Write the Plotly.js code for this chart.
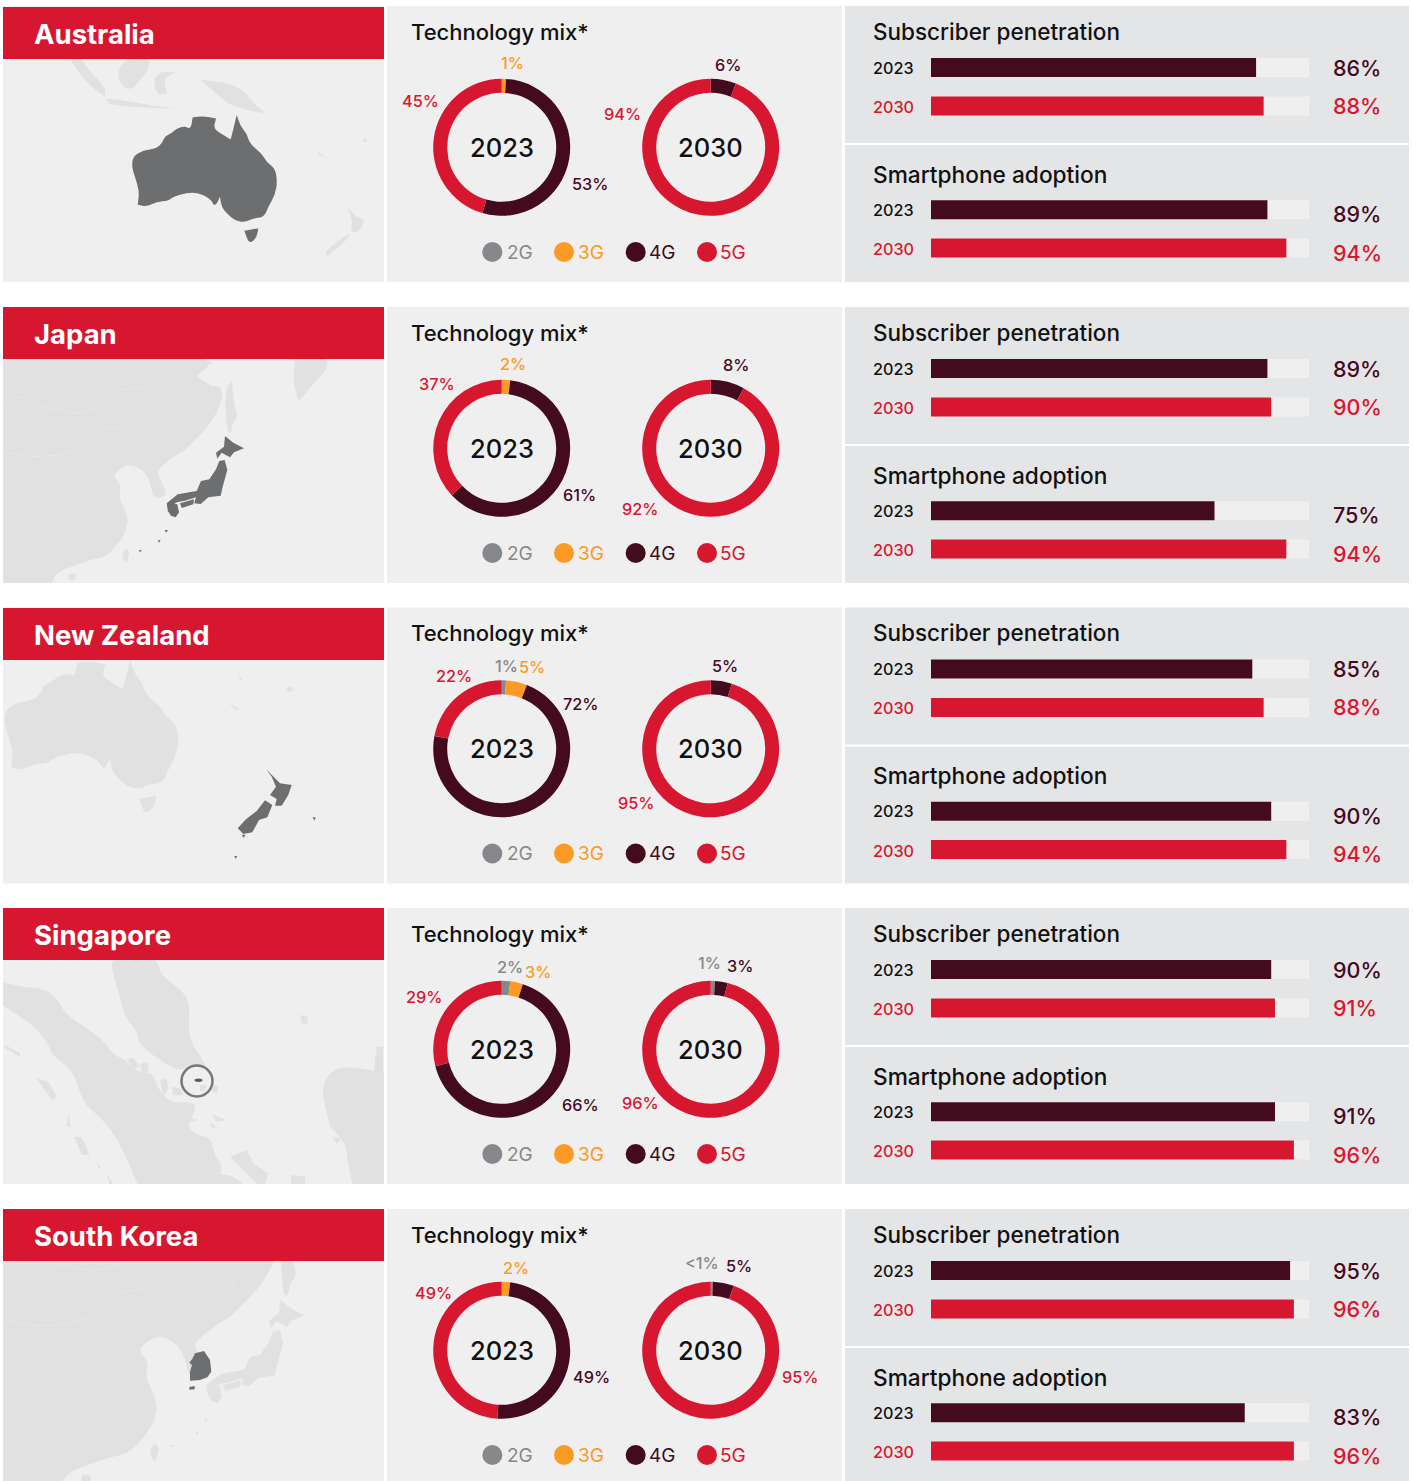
<!DOCTYPE html>
<html><head><meta charset="utf-8">
<script src="https://cdn.plot.ly/plotly-3.0.1.min.js"></script>
<style>html,body{margin:0;padding:0;background:#fff;overflow:hidden}#c{width:1413px;height:1481px}</style>
</head><body><div id="c"></div>
<script>
// ---------- data ----------
const countries = ["Australia","Japan","New Zealand","Singapore","South Korea"];
const techs = ["2G","3G","4G","5G"];
const years = ["2023","2030"];
const mix2023 = [[0,1,53,45],[0,2,61,37],[1,5,72,22],[2,3,66,29],[0,2,49,49]];
const mix2030 = [[0,0,6,94],[0,0,8,92],[0,0,5,95],[1,0,3,96],[0.5,0,5,95]];
const subscriber2023 = [86,89,85,90,95];
const subscriber2030 = [88,90,88,91,96];
const smartphone2023 = [89,75,90,91,83];
const smartphone2030 = [94,94,94,96,96];

// ---------- style & layout ----------
const FONT = "Inter, 'Noto Sans', sans-serif";
const RED="#D71730", DARK="#440A1E", ORANGE="#FB9A25", GREY="#87888B";
const techColors=[GREY,ORANGE,DARK,RED];
const rowTops=[6,307,607.5,908,1209];
const headerTops=[7,307,608,908,1209];
const W=1413,H=1481,ROWH=276;
// donut label anchors (technology index, centre x, centre y in page pixels)
const labels2023=[
 [[1,512,63],[3,420,101],[2,590,184]],
 [[1,513,364],[3,437,384],[2,579,495]],
 [[0,506,666],[1,532,667],[3,454,676],[2,581,704]],
 [[0,510,967],[1,538,972],[3,424,997],[2,580,1105]],
 [[1,516,1268],[3,433,1293],[2,591,1377]]];
const labels2030=[
 [[2,728,65],[3,622,114]],
 [[2,736,365],[3,640,509]],
 [[2,725,666],[3,636,803]],
 [[0,709,963],[2,740,966],[3,640,1103]],
 [[0,702,1263],[2,739,1266],[3,800,1377]]];

// ---------- map outlines (decorative, in 3x-crop pixels) ----------
const LAND="#E1E1E1", HILITE="#6D6E70", BORDER="#E8E8E8";
const ausMain=[[395,500],[400,468],[430,452],[430,452],[470,445],[487,428],[495,408],[515,400],[530,385],[555,378],[572,388],[578,352],[578,352],[610,348],[648,356],[648,356],[640,385],[665,402],[692,418],[692,418],[698,395],[710,345],[710,345],[722,380],[740,400],[750,432],[785,460],[800,487],[825,505],[832,545],[825,585],[805,620],[792,652],[760,655],[735,667],[705,662],[680,640],[665,622],[660,590],[660,590],[645,622],[632,597],[595,578],[560,578],[520,590],[505,603],[470,605],[440,620],[413,614],[413,614],[418,575],[405,530]];
const tas=[[733,692],[733,692],[775,685],[775,685],[770,712],[755,727],[745,725]];
const ausBg=[
 [[205,170],[240,170],[270,215],[315,260],[315,290],[315,290],[280,265],[240,225]],
 [[350,215],[385,170],[450,170],[445,210],[420,240],[395,270],[365,260]],
 [[315,295],[315,295],[400,305],[470,320],[530,325],[530,325],[480,324],[400,322],[330,312],[330,312]],
 [[460,240],[480,215],[530,215],[530,215],[490,235],[500,280],[500,280],[470,285]],
 [[590,235],[640,245],[690,250],[730,270],[770,320],[800,340],[800,340],[760,335],[710,320],[680,310],[640,270]],
 [[1040,615],[1040,615],[1065,650],[1095,655],[1085,685],[1065,700],[1050,690],[1060,670]],
 [[1055,695],[1040,720],[1000,755],[980,770],[975,755],[1010,725]],
 [[945,450],[945,450],[975,470],[975,470],[965,472]],
 [[1088,418],[1100,416],[1100,426],[1088,426]]];
const jpMain=[[-30,170],[-30,170],[645,170],[620,205],[585,230],[610,240],[635,260],[660,258],[670,290],[650,340],[620,385],[575,430],[555,450],[520,470],[470,510],[480,535],[500,580],[490,592],[460,595],[450,545],[430,510],[385,490],[335,525],[365,555],[355,590],[385,650],[380,690],[355,730],[320,770],[270,780],[215,800],[165,820],[150,870],[150,870],[-30,870],[-30,870]];
const jpBg=[
 [[675,270],[695,245],[695,245],[705,330],[715,345],[695,375],[695,400],[680,395]],
 [[885,170],[885,170],[980,170],[985,205],[950,240],[920,275],[895,305],[895,305],[880,240]],
 [[375,745],[390,755],[380,790],[380,790],[365,775]],
 [[205,820],[230,822],[225,842],[205,840]]];
const jpIslands=[
 [[675,408],[700,428],[732,445],[702,457],[690,472],[665,458],[652,476],[648,458],[672,440]],
 [[658,483],[674,480],[682,510],[668,560],[662,587],[625,592],[602,612],[583,610],[588,592],[555,602],[530,607],[503,627],[500,610],[533,583],[590,573],[603,543],[628,538],[648,508]],
 [[540,610],[582,598],[580,613],[545,624]],
 [[503,610],[532,613],[537,637],[527,652],[513,647],[503,632]],
 [[475,720],[482,720],[476,729]],[[416,751],[426,751],[420,757]],[[494,690],[504,690],[498,698]]];
const jpBorders=[
 [[10,310],[60,290],[130,320],[230,340],[300,325],[350,270],[440,260],[470,300],[530,340],[570,370],[550,400]],
 [[10,455],[100,470],[180,465],[240,440],[300,390],[360,380]]];
const nzHi=[
 [[798,507],[825,535],[840,550],[875,555],[865,585],[845,617],[825,617],[830,597],[810,585],[828,560],[815,530]],
 [[795,601],[817,615],[802,652],[777,660],[757,697],[730,702],[713,685],[738,658],[770,633]],
 [[726,704],[737,704],[730,714]],[[938,652],[947,652],[943,662]],[[703,768],[712,768],[707,777]]];
const nzBg=[[[685,305],[685,305],[720,330],[720,330],[705,330]],[[858,261],[877,261],[877,275],[858,275]],[[715,225],[715,225],[728,240],[722,245]]];
const sgBig=[
 [[330,170],[470,170],[480,225],[545,270],[570,310],[565,400],[580,440],[610,480],[620,515],[590,495],[550,510],[520,505],[470,475],[415,430],[415,400],[375,350],[360,290],[340,230]],
 [[-20,240],[-20,240],[70,262],[130,265],[170,295],[195,340],[260,385],[310,420],[340,465],[380,480],[400,510],[460,520],[470,560],[510,610],[575,605],[590,625],[565,670],[575,700],[635,715],[640,760],[670,800],[655,825],[700,825],[745,870],[745,870],[420,870],[420,870],[380,775],[345,705],[300,650],[250,610],[225,530],[205,500],[155,465],[145,430],[95,370],[-20,300],[-20,300]],
 [[1170,530],[1170,530],[1100,505],[1000,500],[965,560],[975,620],[990,680],[1010,700],[1040,740],[1040,770],[1060,870],[1060,870],[1170,870],[1170,870]]];
const sgIslands=[
 [[15,435],[60,460],[60,470],[15,445]],[[110,535],[145,545],[170,590],[155,600]],[[205,640],[212,680],[200,680]],
 [[222,710],[245,710],[268,765],[245,765]],[[290,785],[305,805],[295,805]],[[320,820],[345,860],[330,860]],
 [[900,345],[925,350],[920,375],[905,370]],[[690,770],[740,750],[760,790],[805,820],[790,870],[720,800]],
 [[640,645],[680,660],[650,665]],[[630,665],[650,680],[635,685]],[[570,655],[590,660],[570,665]],
 [[420,490],[445,490],[445,515],[425,515]],[[380,478],[400,475],[420,500],[400,505]],[[480,540],[500,535],[505,565],[490,590]],
 [[515,560],[540,565],[550,585],[520,585]],[[640,555],[655,560],[650,578],[636,575]],[[600,555],[620,555],[612,575],[600,572]],
 [[875,825],[915,830],[915,870],[870,870]],[[1000,712],[1025,715],[1010,732]],[[1130,440],[1150,440],[1150,530],[1120,530]]];
const skHi=[[[585,460],[612,453],[630,480],[634,515],[622,532],[600,540],[570,542],[570,515],[576,495],[568,488],[578,475]],[[568,561],[584,558],[584,568],[568,569]]];

// closed outline smoothed through edge midpoints; a repeated point stays sharp
const mapT=(pts,ox,oy,s,dx,dy)=>{
  const q=pts.map(p=>[(p[0]*s+dx)/3+ox,(p[1]*s+dy)/3+oy]);
  const m=(a,b)=>((a[0]+b[0])/2).toFixed(1)+","+((a[1]+b[1])/2).toFixed(1);
  let d="M"+m(q[q.length-1],q[0]);
  q.forEach((p,i)=>{d+="Q"+p[0].toFixed(1)+","+p[1].toFixed(1)+" "+m(p,q[(i+1)%q.length]);});
  return d+"Z";
};
const lineT=(pts,ox,oy,s,dx,dy)=>"M"+pts.map(p=>((p[0]*s+dx)/3+ox).toFixed(1)+","+((p[1]*s+dy)/3+oy).toFixed(1)).join("L");
const polyT=(pts,ox,oy,s,dx,dy)=>lineT(pts,ox,oy,s,dx,dy)+"Z";
const blob=(path,color)=>({type:"path",path,xref:"x",yref:"y",fillcolor:color,line:{width:0},layer:"below"});
const rule=(path)=>({type:"path",path,xref:"x",yref:"y",line:{width:0.8,color:BORDER},layer:"below"});
const rect=(x0,y0,x1,y1,color)=>({type:"rect",xref:"x",yref:"y",x0,y0,x1,y1,fillcolor:color,line:{width:0},layer:"below"});

// map layer
const shapes=[];
shapes.push(rect(3,0,384,H,"#EFEFEF"));
// Australia row
ausBg.forEach(p=>shapes.push(blob(mapT(p,0,0,1,0,0),LAND)));
shapes.push(blob(mapT(ausMain,0,0,1,0,0),HILITE),blob(mapT(tas,0,0,1,0,0),HILITE));
// Japan row
shapes.push(blob(mapT(jpMain,0,300,1,0,0),LAND));
jpBorders.forEach(p=>shapes.push(rule(lineT(p,0,300,1,0,0))));
jpBg.forEach(p=>shapes.push(blob(mapT(p,0,300,1,0,0),LAND)));
jpIslands.forEach(p=>shapes.push(blob(polyT(p,0,300,1,0,0),HILITE)));
// New Zealand row
const azS=1.2,azX=390-710*1.2,azY=180-345*1.2;
shapes.push(blob(mapT(ausMain,0,600,azS,azX,azY),LAND),blob(mapT(tas,0,600,azS,azX,azY),LAND));
nzBg.forEach(p=>shapes.push(blob(mapT(p,0,600,1,0,0),LAND)));
nzHi.forEach(p=>shapes.push(blob(polyT(p,0,600,1,0,0),HILITE)));
// Singapore row
sgBig.forEach(p=>shapes.push(blob(mapT(p,0,900,1,0,0),LAND)));
sgIslands.forEach(p=>shapes.push(blob(polyT(p,0,900,1,0,0),LAND)));
shapes.push({type:"circle",xref:"x",yref:"y",x0:181.5,y0:1065.5,x1:212.5,y1:1096.5,line:{color:"#77787A",width:2.5},fillcolor:"rgba(0,0,0,0)",layer:"below"});
shapes.push({type:"circle",xref:"x",yref:"y",x0:194.5,y0:1078.6,x1:202.5,y1:1082,line:{width:0},fillcolor:"#5A5B5D",layer:"below"});
// South Korea row
const skS=1.27,skX=860-690*1.27,skY=340-440*1.27;
shapes.push(blob(mapT(jpMain,0,1200,skS,skX,skY),LAND));
jpBorders.forEach(p=>shapes.push(rule(lineT(p,0,1200,skS,skX,skY))));
jpBg.forEach(p=>shapes.push(blob(mapT(p,0,1200,skS,skX,skY),LAND)));
jpIslands.forEach(p=>shapes.push(blob(polyT(p,0,1200,skS,skX,skY),LAND)));
skHi.forEach(p=>shapes.push(blob(polyT(p,0,1200,1,0,0),HILITE)));

// masks between rows, then panels on top of the maps
shapes.push(rect(0,0,3,H,"#FFFFFF"),rect(0,0,390,rowTops[0],"#FFFFFF"));
rowTops.forEach((t,i)=>{
  const b=Math.min(t+ROWH,H);
  const next=i<4?rowTops[i+1]:H;
  if(i<4) shapes.push(rect(0,b,W,next,"#FFFFFF"));
  shapes.push(rect(384,t,387,b,"#FFFFFF"));
  shapes.push(rect(387,t,842,b,"#EFEFEF"));
  shapes.push(rect(842,t,845,b,"#FFFFFF"));
  shapes.push(rect(845,t,1409,t+137,"#E4E5E7"));
  shapes.push(rect(845,t+139,1409,b,"#E4E5E7"));
  shapes.push(rect(3,headerTops[i],384,headerTops[i]+52,RED));
  // legend dots
  [492.3,564,635.7,707].forEach((x,k)=>shapes.push({type:"circle",xref:"x",yref:"y",x0:x-10,x1:x+10,y0:t+236,y1:t+256,fillcolor:techColors[k],line:{width:0},layer:"below"}));
});

const ann=[];
const txt=(x,y,text,size,color,anchor,weight)=>ann.push({xref:"x",yref:"y",x,y,text,showarrow:false,xanchor:anchor||"left",yanchor:"middle",
  font:{family:FONT,size,color,weight:weight||400},borderpad:0,borderwidth:0});
const fmt=v=>v<1&&v>0?"<1%":v+"%";

const traces=[{type:"scatter",x:[0],y:[0],xaxis:"x",yaxis:"y",mode:"markers",marker:{opacity:0},showlegend:false,hoverinfo:"skip"}];
const layout={width:W,height:H,margin:{l:0,r:0,t:0,b:0,pad:0},paper_bgcolor:"#FFFFFF",plot_bgcolor:"rgba(0,0,0,0)",showlegend:false,barmode:"overlay",hovermode:false,
  xaxis:{range:[0,W],domain:[0,1],visible:false,fixedrange:true},
  yaxis:{range:[H,0],domain:[0,1],visible:false,fixedrange:true},
  shapes,annotations:ann};

const DONUT_R=68.5;
let ax=2;
function barPanel(top,v23,v30,valueShift){
  const band=38.4, yTop=top-band/2, yBot=yTop+2*band;
  const xn="x"+ax, yn="y"+ax;
  layout["xaxis"+ax]={domain:[931/W,1309/W],range:[0,100],visible:false,fixedrange:true,anchor:yn};
  layout["yaxis"+ax]={domain:[1-yBot/H,1-yTop/H],type:"category",categoryorder:"array",categoryarray:years,range:[1.5,-0.5],visible:false,fixedrange:true,anchor:xn};
  traces.push({type:"bar",orientation:"h",y:years,x:[100,100],xaxis:xn,yaxis:yn,marker:{color:"#EFEFEF",line:{width:0}},width:0.495,showlegend:false,hoverinfo:"skip"});
  traces.push({type:"bar",orientation:"h",y:years,x:[v23,v30],xaxis:xn,yaxis:yn,marker:{color:[DARK,RED],line:{width:0}},width:0.495,showlegend:false,hoverinfo:"skip"});
  ax++;
  txt(873,top,years[0],16.2,"#111111","left",500);
  txt(873,top+band+1,years[1],16.2,RED,"left",500);
  txt(1333,top+valueShift,v23+"%",21.5,DARK,"left",500);
  txt(1333,top+band+valueShift,v30+"%",21.5,RED,"left",500);
}

countries.forEach((name,i)=>{
  const t=rowTops[i];
  txt(34,headerTops[i]+26.5,name,27.5,"#FFFFFF","left",700);
  txt(411,t+25.5,"Technology mix*",22,"#111111","left",500);
  txt(873,t+25,"Subscriber penetration",22.5,"#111111","left",500);
  txt(873,t+168,"Smartphone adoption",22.7,"#111111","left",500);
  // donuts
  [[mix2023[i],501.7,labels2023[i]],[mix2030[i],710.7,labels2030[i]]].forEach((d,k)=>{
    const cy=t+141.3, cx=d[1];
    traces.push({type:"pie",values:d[0],labels:techs,sort:false,direction:"clockwise",rotation:0,hole:54.5/68.5,
      domain:{x:[(cx-DONUT_R)/W,(cx+DONUT_R)/W],y:[1-(cy+DONUT_R)/H,1-(cy-DONUT_R)/H]},
      marker:{colors:techColors,line:{width:0}},textinfo:"none",showlegend:false,hoverinfo:"skip"});
    txt(cx,cy,years[k],25.5,"#111111","center",500);
    d[2].forEach(l=>txt(l[1],l[2],fmt(d[0][l[0]]),16.3,techColors[l[0]],"center",500));
  });
  // legend text
  [507,578,649,720].forEach((x,k)=>txt(x,t+246,techs[k],19,techColors[k],"left",400));
  // bars
  barPanel(t+61.5,subscriber2023[i],subscriber2030[i],0);
  barPanel(t+203.7,smartphone2023[i],smartphone2030[i],4.5);
});

Plotly.newPlot("c",traces,layout,{displayModeBar:false,staticPlot:true,responsive:false});
</script></body></html>
